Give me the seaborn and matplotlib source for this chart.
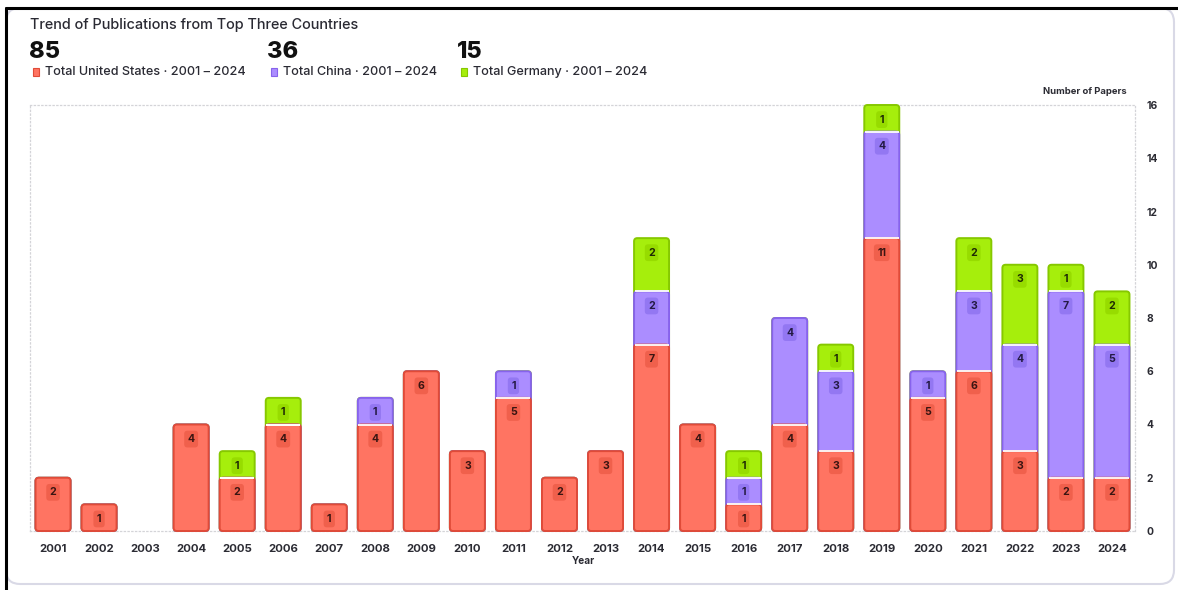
import matplotlib
matplotlib.use("Agg")
import matplotlib.pyplot as plt
from matplotlib.patches import FancyBboxPatch
from matplotlib.lines import Line2D
import numpy as np
import pandas as pd
import seaborn as sns

years = [str(y) for y in range(2001, 2025)]
us = [2, 1, 0, 4, 2, 4, 1, 4, 6, 3, 5, 2, 3, 7, 4, 1, 4, 3, 11, 5, 6, 3, 2, 2]
china = [0, 0, 0, 0, 0, 0, 0, 1, 0, 0, 1, 0, 0, 2, 0, 1, 4, 3, 4, 1, 3, 4, 7, 5]
germany = [0, 0, 0, 0, 1, 1, 0, 0, 0, 0, 0, 0, 0, 2, 0, 1, 0, 1, 1, 0, 2, 3, 1, 2]
series_names = ["United States", "China", "Germany"]
period = "2001 – 2024"
yticks = [0, 2, 4, 6, 8, 10, 12, 14, 16]

df = pd.DataFrame({"Year": years, "US": us, "China": china, "Germany": germany})
df["L1"] = df["US"]
df["L2"] = df["US"] + df["China"]
df["L3"] = df["L2"] + df["Germany"]

fills = {"US": "#FF7462", "China": "#AB8DFF", "Germany": "#A6EE0C"}
edges = {"US": "#E04B38", "China": "#8763EC", "Germany": "#86C800"}
lblbg = {"US": "#F0604C", "China": "#9377F2", "Germany": "#97DC00"}
lbltx = {"US": "#3a1512", "China": "#241a44", "Germany": "#1f2a05"}

sns.set_theme(style="white")
plt.rcParams["font.family"] = ["Inter", "DejaVu Sans"]

W, H = 1178, 590
fig = plt.figure(figsize=(W / 100, H / 100), dpi=100)
fig.patch.set_facecolor("white")

# card frame
card = FancyBboxPatch((6 / W, 6 / H), (1174 - 6) / W, (582 - 6) / H,
                      boxstyle="round,pad=0,rounding_size=0.012",
                      transform=fig.transFigure, fc="white", ec="#D9D9E6",
                      lw=1.5, mutation_aspect=W / H, zorder=-5)
fig.patches.append(card)
fig.lines.append(Line2D([6 / W, 1], [1 - 8 / H, 1 - 8 / H], transform=fig.transFigure,
                        color="black", lw=2.2, zorder=1))
fig.lines.append(Line2D([6 / W, 6 / W], [0, 1 - 8 / H], transform=fig.transFigure,
                        color="black", lw=2.2, zorder=1))

ax = fig.add_axes([30 / W, 1 - 531 / H, (1135 - 30) / W, (531 - 105) / H])
ax.set_facecolor("none")
ax.set_zorder(2)

layers = [("Germany", "L3"), ("China", "L2"), ("US", "L1")]
aspect = (16 / 426) / (24 / 1105)
layer_patches = {}
for name, col in layers:
    n0 = len(ax.patches)
    sns.barplot(data=df, x="Year", y=col, color=fills[name], width=0.76,
                saturation=1, ax=ax, errorbar=None)
    new = ax.patches[n0:]
    info = []
    for p in new:
        x, y, w, h = p.get_x(), p.get_y(), p.get_width(), p.get_height()
        info.append((x + w / 2, h))
        p.set_visible(False)
        if h > 0:
            fb = FancyBboxPatch((x, y), w, h,
                                boxstyle="round,pad=0,rounding_size=0.07",
                                mutation_aspect=aspect, fc=fills[name],
                                ec=edges[name], lw=1.4, zorder=2, clip_on=False)
            ax.add_patch(fb)
    layer_patches[name] = info

# separators between stacked segments
for name in ["US", "China"]:
    for (xc, top), (_, full) in zip(layer_patches[name], layer_patches["Germany"]):
        if 0 < top < full:
            ax.plot([xc - 0.37, xc + 0.37], [top, top], color="white", lw=1.3,
                    zorder=3, solid_capstyle="butt", clip_on=False)

# value labels
vals = {"US": us, "China": china, "Germany": germany}
for name in ["US", "China", "Germany"]:
    for (xc, top), v in zip(layer_patches[name], vals[name]):
        if v > 0:
            ax.annotate(str(v), xy=(xc, top), xytext=(0, -10.5), textcoords="offset points",
                        ha="center", va="center", fontsize=7.6, fontweight="bold",
                        color=lbltx[name], zorder=5,
                        bbox=dict(boxstyle="round,pad=0.32,rounding_size=0.3",
                                  fc=lblbg[name], ec="none"))

ax.set_xlim(-0.5, 23.5)
ax.set_ylim(0, 16)
ax.set_yticks(yticks)
ax.yaxis.tick_right()
ax.tick_params(axis="y", length=0, pad=8, labelsize=7.4, labelcolor="#2b2b33")
ax.tick_params(axis="x", length=0, pad=9, labelsize=8.2, labelcolor="#2b2b33")
for lbl in ax.get_xticklabels() + ax.get_yticklabels():
    lbl.set_fontweight("bold")
ax.set_xlabel("")
ax.set_ylabel("")
for s in ax.spines.values():
    s.set_visible(True)
    s.set_color("#D4D4D8")
    s.set_linewidth(0.9)
    s.set_linestyle((0, (1, 2)))
    s.set_zorder(0.5)
ax.grid(False)

fig.text(583 / W, 1 - 561 / H, "Year", ha="center", va="center", fontsize=7.2,
         fontweight="bold", color="#2b2b33")
fig.text(1127 / W, 1 - 91 / H, "Number of Papers", ha="right", va="center",
         fontsize=6.8, fontweight="bold", color="#2b2b33")

# header
fig.text(30 / W, 1 - 25 / H, "Trend of Publications from Top Three Countries",
         ha="left", va="center", fontsize=10.4, fontweight="medium", color="#2a2a33")
totals = [sum(us), sum(china), sum(germany)]
xs = [30, 268, 458]
cols = ["US", "China", "Germany"]
for x0, t, nm, c in zip(xs, totals, series_names, cols):
    fig.text((x0 - 1) / W, 1 - 52 / H, str(t), ha="left", va="center", fontsize=17,
             fontweight="heavy", color="#111111")
    sq = FancyBboxPatch(((x0 + 3) / W, (1 - 76 / H)), 6 / W, 8 / H,
                        boxstyle="square,pad=0",
                        transform=fig.transFigure, fc=fills[c], ec=edges[c], lw=0.8)
    fig.patches.append(sq)
    fig.text((x0 + 15) / W, 1 - 72 / H, f"Total {nm} · {period}", ha="left",
             va="center", fontsize=9.1, fontweight="medium", color="#2a2a33")

fig.savefig("out.png", dpi=100)
